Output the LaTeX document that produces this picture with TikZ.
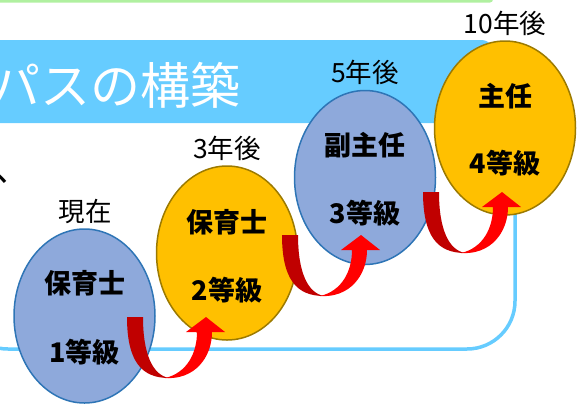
\documentclass[tikz,border=0pt]{standalone}
\usepackage{fontspec}
\setmainfont{Noto Sans CJK JP}
\usetikzlibrary{shapes.geometric}
\definecolor{bannerblue}{HTML}{66CCFF}
\definecolor{lineblue}{HTML}{66CCFF}
\definecolor{topgreen}{HTML}{B0F0A0}
\definecolor{ellblue}{HTML}{8EA9DB}
\definecolor{ellblueedge}{HTML}{2E75B6}
\definecolor{ellorange}{HTML}{FFC000}
\definecolor{ellorangeedge}{HTML}{9C7A00}
\definecolor{darkred}{HTML}{C00000}
\definecolor{brightred}{HTML}{FF0000}
\begin{document}
\begin{tikzpicture}[x=1pt,y=-1pt,
  lbl/.style={font=\fontsize{26.5}{28}\selectfont, inner sep=0pt},
  etxt/.style={font=\fontsize{27}{29}\selectfont\bfseries, inner sep=0pt},
  bubble/.style={ellipse, inner sep=0pt, minimum width=141pt, minimum height=174pt, line width=1.5pt},
  bluebubble/.style={bubble, draw=ellblueedge, fill=ellblue},
  orangebubble/.style={bubble, draw=ellorangeedge, fill=ellorange},
  uarrow/.pic={
    \fill[darkred] (0,0) -- (16,0) .. controls (16,38) and (26,58) .. (42,61)
      .. controls (15,61) and (0,45) .. (0,0) -- cycle;
    \fill[brightred] (38,61) .. controls (68,63) and (85,40) .. (85,15)
      -- (98,15) -- (79,0) -- (59,15) -- (70,15)
      .. controls (70,36) and (60,56) .. (38,61) -- cycle;
  }]
\useasboundingbox (0,0) rectangle (583,408);
\clip (0,0) rectangle (583,408);
% top green strip
\fill[topgreen, rounded corners=3pt] (-20,-20) rectangle (493,2.5);
% rounded outline frame
\draw[lineblue, line width=3.5pt, rounded corners=48pt] (-40,105) rectangle (515,349);
% banner
\fill[bannerblue, rounded corners=14pt] (-20,40) rectangle (495,123);
\node[font=\fontsize{50}{52}\selectfont, text=white, anchor=east, inner sep=0pt] (title) at (241,85) {パスの構築};
\node[font=\fontsize{36}{36}\selectfont, anchor=base west, inner sep=0pt] (comma) at (-6,181) {、};
% time labels
\node[lbl] (l1) at (85,212) {現在};
\node[lbl] (l2) at (227,148) {3年後};
\node[lbl] (l3) at (365,72) {5年後};
\node[lbl] (l4) at (505,23) {10年後};
% bubbles
\node[bluebubble] (e1) at (84.5,316) {};
\node[orangebubble] (e2) at (227,253) {};
\node[bluebubble] (e3) at (365,177.5) {};
\node[orangebubble] (e4) at (505,128) {};
% bubble texts
\node[etxt] (t1a) at (84.5,283) {保育士};
\node[etxt] (t1b) at (84.5,352) {1等級};
\node[etxt] (t2a) at (227,222) {保育士};
\node[etxt] (t2b) at (227,290) {2等級};
\node[etxt] (t3a) at (365,145) {副主任};
\node[etxt] (t3b) at (365,213) {3等級};
\node[etxt] (t4a) at (505,96) {主任};
\node[etxt] (t4b) at (505,163) {4等級};
% U-turn arrows
\pic (a1) at (127,317) {uarrow};
\pic (a2) at (282,235) {uarrow};
\pic (a3) at (423,192) {uarrow};
\end{tikzpicture}
\end{document}
